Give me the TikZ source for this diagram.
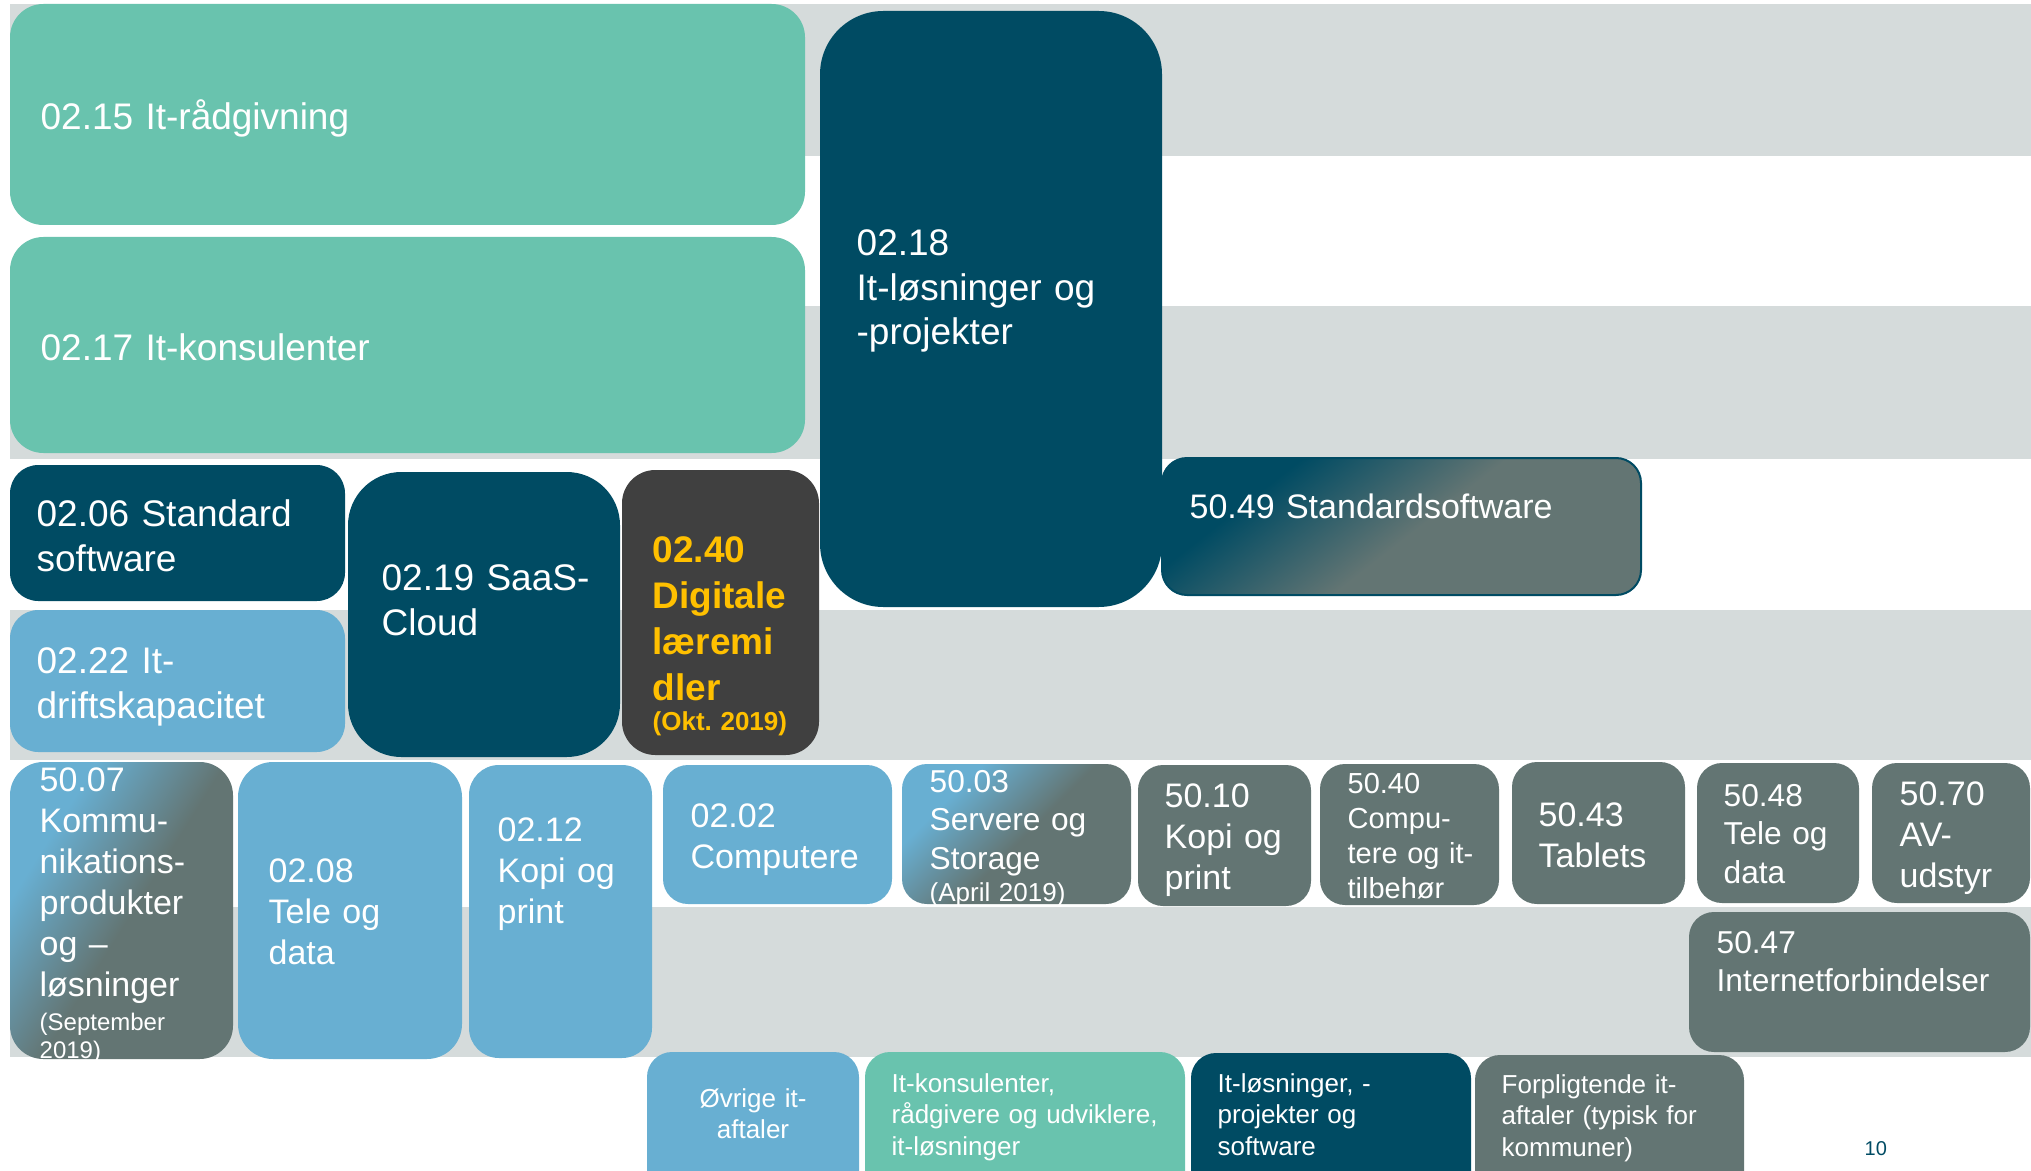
\documentclass[tikz,border=0pt]{standalone}
\usepackage{fontspec}
\setmainfont{Liberation Sans}
\usepackage{xcolor}
\usepackage{tikz}
\frenchspacing

\definecolor{itgreen}{HTML}{69C3AE}
\definecolor{itpetrol}{HTML}{004B63}
\definecolor{itblue}{HTML}{68AFD2}
\definecolor{itslate}{HTML}{637573}
\definecolor{itcoal}{HTML}{404040}
\definecolor{itband}{HTML}{D5DBDB}
\definecolor{ityellow}{HTML}{FFC000}

\pgfdeclareverticalshading{fadepetrol}{100bp}{color(0bp)=(itslate); color(48bp)=(itslate); color(70bp)=(itpetrol); color(100bp)=(itpetrol)}
\pgfdeclareverticalshading{fadeblue}{100bp}{color(0bp)=(itslate); color(48bp)=(itslate); color(70bp)=(itblue); color(100bp)=(itblue)}

\tikzset{
    txt/.style={anchor=base west, inner sep=0pt, text=white, align=left, text width=130pt},
    fL/.style={font=\fontsize{11.1pt}{13.5pt}\selectfont},
    fM/.style={font=\fontsize{10.2pt}{12.3pt}\selectfont},
    fS/.style={font=\fontsize{9.5pt}{11.6pt}\selectfont},
    fXS/.style={font=\fontsize{8.7pt}{10.5pt}\selectfont},
    fLeg/.style={font=\fontsize{7.8pt}{9.5pt}\selectfont},
    fNote/.style={font=\fontsize{7.8pt}{9pt}\selectfont},
    fadefrom/.style={shading=#1, shading angle=45},
}

\begin{document}
\begin{tikzpicture}[x=0.3pt, y=-0.3pt]
        \useasboundingbox (0, 0) rectangle (2031, 1171);
        \clip (0, 0) rectangle (2031, 1171);

        \fill[itband] (10, 4)   rectangle (2031, 156);
        \fill[itband] (10, 306) rectangle (2031, 459);
        \fill[itband] (10, 610) rectangle (2031, 760);
        \fill[itband] (10, 907) rectangle (2031, 1057);

        \fill[itgreen, rounded corners=10pt]   (10, 4)     rectangle (805, 225);
        \fill[itgreen, rounded corners=10pt]   (10, 237)   rectangle (805, 453);
        \fill[itpetrol, rounded corners=19pt]  (820, 11)   rectangle (1162, 607);
        \fill[itpetrol, rounded corners=8.5pt] (10, 465)   rectangle (345, 601);
        \fill[itblue, rounded corners=8.5pt]   (10, 610)   rectangle (345, 752);
        \fill[itpetrol, rounded corners=16pt]  (348, 472)  rectangle (620, 757);
        \fill[itcoal, rounded corners=10pt]    (622, 470)  rectangle (819, 755);
        \shade[fadefrom=fadepetrol, shading angle=38, draw=itpetrol, line width=0.6pt, rounded corners=7.5pt] (1162, 458) rectangle (1641, 595);

        \shade[fadefrom=fadeblue, shading angle=58, rounded corners=10pt] (10, 762) rectangle (233, 1059);
        \fill[itblue, rounded corners=10.5pt]  (238, 762)  rectangle (462, 1059);
        \fill[itblue, rounded corners=9pt]     (469, 765)  rectangle (652, 1058);
        \fill[itblue, rounded corners=7.5pt]   (663, 765)  rectangle (892, 904);
        \shade[fadefrom=fadeblue, rounded corners=7.5pt] (902, 764) rectangle (1131, 904);
        \fill[itslate, rounded corners=7.5pt]  (1138, 765) rectangle (1311, 906);
        \fill[itslate, rounded corners=7.5pt]  (1320, 764) rectangle (1499, 905);
        \fill[itslate, rounded corners=7.5pt]  (1512, 762) rectangle (1685, 904);
        \fill[itslate, rounded corners=7.5pt]  (1697, 763) rectangle (1859, 903);
        \fill[itslate, rounded corners=7.5pt]  (1872, 763) rectangle (2030, 903);
        \fill[itslate, rounded corners=7.5pt]  (1689, 912) rectangle (2030, 1052);

        \fill[itblue, rounded corners=7.5pt]   (647, 1052)  rectangle (859, 1200);
        \fill[itgreen, rounded corners=7.5pt]  (865, 1052)  rectangle (1185, 1200);
        \fill[itpetrol, rounded corners=7.5pt] (1191, 1053) rectangle (1471, 1200);
        \fill[itslate, rounded corners=7.5pt]  (1475, 1055) rectangle (1744, 1200);

        \node[txt, fL] at (40, 130)  (t0215) {02.15 It-rådgivning};
        \node[txt, fL] at (40, 360)  (t0217) {02.17 It-konsulenter};
        \node[txt, fL] at (856, 255) (t0218) {02.18\\It-løsninger og\\-projekter};
        \node[txt, fL] at (36, 526)  (t0206) {02.06 Standard\\software};
        \node[txt, fL] at (36, 673)  (t0222) {02.22 It-\\driftskapacitet};
        \node[txt, fL] at (381, 590) (t0219) {02.19 SaaS-\\Cloud};
        \node[txt, text=ityellow, font=\fontsize{11.1pt}{13.8pt}\selectfont\bfseries] at (652, 562) (t0240) {02.40\\Digitale\\læremi\\dler};
        \node[txt, text=ityellow, font=\fontsize{7.8pt}{9pt}\selectfont\bfseries] at (652, 730) (n0240) {(Okt. 2019)};
        \node[txt, fM] at (1189, 518) (t5049) {50.49 Standardsoftware};

        \node[txt, fM] at (39, 791)  (t5007) {50.07\\Kommu-\\nikations-\\produkter\\og –\\løsninger};
        \node[txt, font=\fontsize{7.2pt}{8.4pt}\selectfont] at (39, 1030) (n5007) {(September\\2019)};
        \node[txt, fM] at (268, 882)  (t0208) {02.08\\Tele og\\data};
        \node[txt, fM] at (497, 841)  (t0212) {02.12\\Kopi og\\print};
        \node[txt, fM] at (690, 827)  (t0202) {02.02\\Computere};
        \node[txt, fS] at (929, 792)  (t5003) {50.03\\Servere og\\Storage};
        \node[txt, fNote] at (929, 901) (n5003) {(April 2019)};
        \node[txt, fM] at (1164, 807) (t5010) {50.10\\Kopi og\\print};
        \node[txt, fXS] at (1347, 793) (t5040) {50.40\\Compu-\\tere og it-\\tilbehør};
        \node[txt, fM] at (1538, 826) (t5043) {50.43\\Tablets};
        \node[txt, fS] at (1723, 806) (t5048) {50.48\\Tele og\\data};
        \node[txt, fM] at (1899, 805) (t5070) {50.70\\AV-\\udstyr};
        \node[txt, fS] at (1716, 953) (t5047) {50.47\\Internetforbindelser};

        \node[txt, fLeg, anchor=base, align=center, text width=60pt] at (753, 1107) (lovrige) {Øvrige it-\\aftaler};
        \node[txt, fLeg] at (891, 1092)  (lkons) {It-konsulenter,\\rådgivere og udviklere,\\it-løsninger};
        \node[txt, fLeg] at (1217, 1092) (lloes) {It-løsninger, -\\projekter og\\software};
        \node[txt, fLeg] at (1501, 1093) (lforp) {Forpligtende it-\\aftaler (typisk for\\kommuner)};
        \node[txt, text=itpetrol, font=\fontsize{6pt}{7pt}\selectfont] at (1864, 1155) (tpage) {10};
    \end{tikzpicture}
\end{document}
